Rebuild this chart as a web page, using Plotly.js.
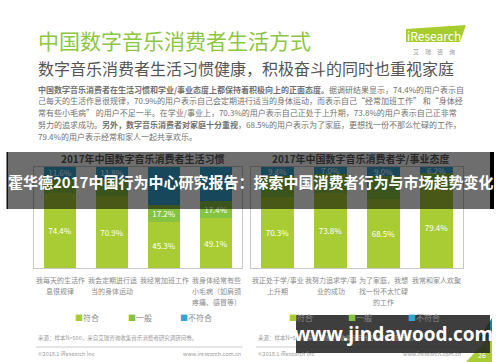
<!DOCTYPE html>
<html><head><meta charset="utf-8">
<script src="https://cdn.plot.ly/plotly-3.0.1.min.js"></script>
<style>html,body{margin:0;padding:0;background:#fff}#c{width:500px;height:362px}</style>
</head><body><div id="c"></div>
<script>
// ---- data ----
const habitCats = ['我每天的生活作<br>息很规律','我会定期进行适<br>当的身体运动','我经常加班工作','我身体经常有些<br>小毛病（如肩颈<br>疼痛、感冒等）'];
const habitFit = [74.4, 70.9, 45.3, 49.1];
const habitAvg = [14.0, 17.3, 17.2, 17.4];
const habitNot = [11.6, 11.8, 37.5, 33.5];
const attCats = ['我正处于学/事业<br>上升期','我努力追求学/事<br>业的成功','为了家庭，我想<br>找一份不太忙碌<br>的工作','我常和家人欢聚'];
const attFit = [70.3, 73.8, 68.5, 79.4];
const attAvg = [20.3, 19.2, 22.5, 14.4];
const attNot = [9.4, 7.0, 9.0, 6.2];
const seriesNames = ['符合','一般','不符合'];
// which value labels can be seen (the others lie under the banner text)
const habitAvgShown = [false, false, true, true];
const habitNotShown = [true, true, false, false];
const attAvgShown = [false, false, false, false];

const F = '"Noto Sans CJK SC", "Noto Sans", sans-serif';
const colors = ['#a9cb33', '#86c340', '#35a6d3'];
const px = x => x/500, py = y => 1 - y/362;
const pct = (a, m) => a.map((v, i) => (!m || m[i]) ? v.toFixed(1) + '%' : '');

function bars(cats, vals, i, xa, ya, mask){
  return {type:'bar', x:cats, y:vals, name:seriesNames[i], xaxis:xa, yaxis:ya,
    marker:{color:colors[i]}, text:pct(vals, mask), textposition:'inside', insidetextanchor:'middle',
    textangle:0, constraintext:'none', textfont:{color:'#ffffff', size:8, family:F},
    showlegend:false, hoverinfo:'skip'};
}
const data = [
  bars(habitCats, habitFit, 0, 'x', 'y'), bars(habitCats, habitAvg, 1, 'x', 'y', habitAvgShown),
  bars(habitCats, habitNot, 2, 'x', 'y', habitNotShown),
  bars(attCats, attFit, 0, 'x2', 'y2'), bars(attCats, attAvg, 1, 'x2', 'y2', attAvgShown), bars(attCats, attNot, 2, 'x2', 'y2')
];

const xcommon = {showline:true, mirror:true, linecolor:'#c8c8c8', linewidth:1, ticks:'', showgrid:false,
  showticklabels:false, fixedrange:true, range:[-0.5,3.5]};
const ycommon = {showline:true, mirror:true, linecolor:'#c8c8c8', linewidth:1, showticklabels:false, ticks:'',
  showgrid:false, zeroline:false, range:[0,100], domain:[py(268), py(167)]};

const ann = [];
function t(text, x, y, size, color, xanchor, extra){
  ann.push(Object.assign({text:text, x:px(x), y:py(y), xref:'paper', yref:'paper', showarrow:false,
    xanchor:xanchor||'left', yanchor:'middle', font:{size:size, color:color, family:F}}, extra||{}));
}
function catLabels(cats, xref){
  cats.forEach(c => c.split('<br>').forEach((line, j) => ann.push({text:line, x:c, xref:xref,
    y:py(280 + j*11), yref:'paper', showarrow:false, xanchor:'center', yanchor:'middle',
    font:{size:7, color:'#8a8a8a', family:F}})));
}
catLabels(habitCats, 'x'); catLabels(attCats, 'x2');
t('中国数字音乐消费者生活方式', 36, 40, 21, '#8dc63f');
t('数字音乐消费者生活习惯健康，积极奋斗的同时也重视家庭', 36, 68, 16, '#555555');
const para = [
  '<b>中国数字音乐消费者在生活习惯和学业/事业态度上都保持着积极向上的正面态度。</b>据调研结果显示，74.4%的用户表示自',
  '己每天的生活作息很规律，70.9%的用户表示自己会定期进行适当的身体运动，而表示自己“经常加班工作” 和“身体经',
  '常有些小毛病” 的用户不足一半。在学业/事业上，70.3%的用户表示自己正处于上升期，73.8%的用户表示自己正非常',
  '努力的追求成功。<b>另外，数字音乐消费者对家庭十分重视</b>，68.5%的用户表示为了家庭，更想找一份不那么忙碌的工作，',
  '79.4%的用户表示经常和家人一起共享欢乐。'
];
para.forEach((s, i) => t(s, 36, 89 + i*11.9, 8, '#707070'));
t('iResearch', 434, 35, 12, '#ffffff', 'center');
t('艾　瑞　咨　询', 434, 51, 6, '#999999', 'center');
t('<b>2017年中国数字音乐消费者生活习惯</b>', 143, 158, 10, '#262626', 'center');
t('<b>2017年中国数字音乐消费者学/事业态度</b>', 360, 158, 10, '#262626', 'center');
const lg = (x, i) => t('<span style="color:'+colors[i]+'">■</span>'+seriesNames[i], x, 317, 8, '#8a8a8a');
lg(73,0); lg(126,1); lg(178,2);
lg(287,0); lg(346,1); lg(406,2);
const src = '来源：样本N=500，来自艾瑞咨询收集音乐消费者研究调研问卷。';
t(src, 36, 338, 5.5, '#9a9a9a'); t(src, 256, 338, 5.5, '#9a9a9a');
t('©2018.1 iResearch Inc', 36, 354, 5.5, '#9a9a9a'); t('www.iresearch.com.cn', 243, 354, 5.5, '#9a9a9a', 'right');
t('©2018.1 iResearch Inc', 256, 354, 5.5, '#9a9a9a'); t('www.iresearch.com.cn', 463, 354, 5.5, '#9a9a9a', 'right');
t('26', 482, 355, 7, '#ffffff', 'center');
t('<b>霍华德2017中国行为中心研究报告：探索中国消费者行为与市场趋势变化</b>', 250, 181, 15, '#ffffff', 'center');
t('<b>www.jindawood.com</b>', 393, 334, 19, '#ffffff', 'center', {font:{size:19, color:'#ffffff', family:'"Open Sans", "DejaVu Sans", sans-serif'}});

const shapes = [
  {type:'path', xref:'paper', yref:'paper', layer:'below', line:{width:0}, fillcolor:'#a6cc2e',
   path:`M ${px(406)} ${py(42)} L ${px(406)} ${py(29)} L ${px(466)} ${py(25)} L ${px(460)} ${py(42)} Z`},
  {type:'line', xref:'paper', yref:'paper', x0:px(36), x1:px(243), y0:py(347), y1:py(347), line:{color:'#cccccc', width:1}},
  {type:'line', xref:'paper', yref:'paper', x0:px(256), x1:px(463), y0:py(347), y1:py(347), line:{color:'#cccccc', width:1}},
  {type:'path', xref:'paper', yref:'paper', layer:'below', line:{width:0}, fillcolor:'#1f7f95',
   path:`M ${px(478)} ${py(340)} L ${px(492)} ${py(318)} L ${px(492)} ${py(340)} Z`},
  {type:'path', xref:'paper', yref:'paper', layer:'below', line:{width:0}, fillcolor:'#a9cb33',
   path:`M ${px(466)} ${py(362)} L ${px(492)} ${py(334)} L ${px(492)} ${py(362)} Z`},
  {type:'rect', xref:'paper', yref:'paper', layer:'above', x0:px(7), x1:px(491), y0:py(209), y1:py(152),
   fillcolor:'rgba(0,0,0,0.57)', line:{width:0}},
  {type:'rect', xref:'paper', yref:'paper', layer:'above', x0:px(6.5), x1:px(8), y0:py(209), y1:py(152),
   fillcolor:'#111111', line:{width:0}},
  {type:'rect', xref:'paper', yref:'paper', layer:'above', x0:px(490), x1:px(494), y0:py(209), y1:py(152),
   fillcolor:'#000000', line:{width:0}},
  {type:'rect', xref:'paper', yref:'paper', layer:'above', x0:px(296), x1:px(490), y0:py(353), y1:py(315),
   fillcolor:'rgba(35,35,35,0.88)', line:{width:0}}
];

const layout = {
  width:500, height:362, margin:{l:0, r:0, t:0, b:0}, paper_bgcolor:'#ffffff', plot_bgcolor:'#ffffff',
  barmode:'stack', bargap:0.385, showlegend:false, font:{family:F},
  xaxis:Object.assign({}, xcommon, {domain:[px(34), px(242)], anchor:'y'}),
  yaxis:Object.assign({}, ycommon, {anchor:'x'}),
  xaxis2:Object.assign({}, xcommon, {domain:[px(251), px(463)], anchor:'y2'}),
  yaxis2:Object.assign({}, ycommon, {anchor:'x2'}),
  annotations:ann, shapes:shapes
};
Plotly.newPlot('c', data, layout, {staticPlot:true, displayModeBar:false});
</script></body></html>
